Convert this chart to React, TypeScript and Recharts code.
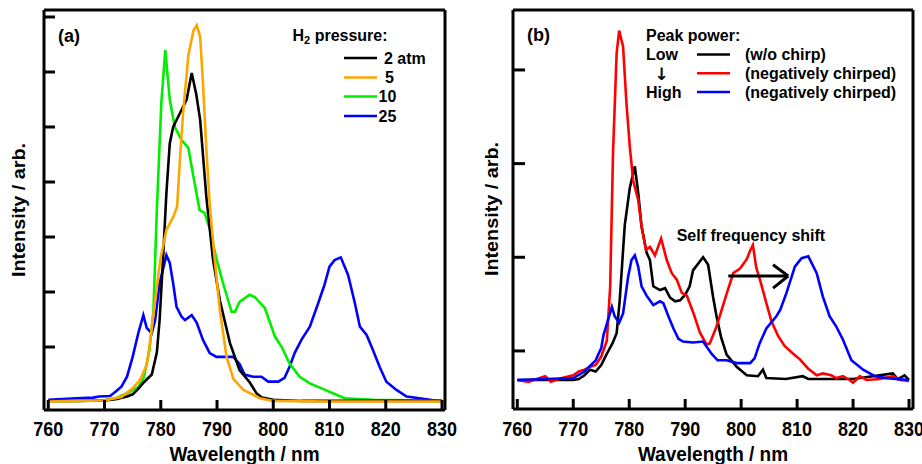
import { LineChart, Line, XAxis, YAxis, ReferenceLine } from "recharts";

const FONT = '"Liberation Sans", Arial, Helvetica, sans-serif';
const SY = 1.15; // the original figure is a little stretched vertically

const WL_TICKS = [760, 770, 780, 790, 800, 810, 820, 830];
const A_Y_TICKS = [1, 2, 3, 4, 5, 6, 7];
const B_Y_TICKS = [0.31, 1.31, 2.31, 3.31];

const A_X_DOMAIN = [759.24, 830.53];
const A_Y_DOMAIN = [-0.145, 7.127];
const B_X_DOMAIN = [759.23, 830.71];
const B_Y_DOMAIN = [-0.31, 3.95];

// (a) H2 pressure: 2 atm
const a2Wl = [760, 765, 770, 772, 774, 775, 776, 777, 778.4, 779.3, 779.8, 780.4, 781, 781.6, 782.2, 783.4, 784.6, 785.5, 786.3, 787, 788.1, 789.3, 790.5, 792.3, 794, 795.8, 797, 798, 800, 805, 810, 820, 830];
const a2I = [0.02, 0.02, 0.03, 0.05, 0.1, 0.14, 0.24, 0.36, 0.5, 0.9, 1.5, 2.6, 3.8, 4.7, 5.0, 5.25, 5.5, 5.98, 5.6, 5.13, 3.73, 2.58, 1.85, 1.07, 0.58, 0.36, 0.16, 0.08, 0.04, 0.02, 0.02, 0.02, 0.02];

// 5 atm
const a5Wl = [760, 765, 770, 773, 775, 776.3, 777.5, 778.1, 779.9, 781, 782.2, 782.9, 783.4, 784, 784.9, 785.8, 786.4, 787, 787.5, 788.1, 788.7, 789.6, 790.5, 791.7, 792.9, 794.7, 797.6, 800, 810, 820, 830];
const a5I = [0.01, 0.02, 0.03, 0.09, 0.25, 0.4, 0.67, 1.1, 2.58, 3.13, 3.36, 3.55, 4.4, 5.3, 6.3, 6.75, 6.85, 6.64, 5.8, 4.6, 3.6, 2.58, 1.67, 0.82, 0.42, 0.22, 0.07, 0.02, 0.01, 0.01, 0.01];

// 10 atm
const a10Wl = [760, 765, 770, 772, 774, 776, 777, 778, 778.7, 779.3, 780.1, 780.8, 781.6, 782.5, 783.7, 784.9, 785.8, 786.9, 787.8, 788.7, 789.9, 791.1, 792.6, 793.2, 794, 795.8, 796.7, 798.5, 800.3, 801.5, 802.9, 804.7, 806.5, 808.8, 810.6, 812.7, 817.7, 830];
const a10I = [0.02, 0.02, 0.03, 0.07, 0.16, 0.27, 0.45, 0.95, 1.67, 3.49, 5.44, 6.4, 5.5, 5.0, 4.76, 4.62, 4.1, 3.49, 3.44, 3.15, 2.6, 2.15, 1.64, 1.64, 1.82, 1.95, 1.91, 1.71, 1.19, 1.0, 0.7, 0.46, 0.34, 0.24, 0.16, 0.07, 0.04, 0.02];

// 25 atm
const a25Wl = [760, 765, 768, 769, 771, 772, 773, 774, 775, 776, 776.9, 777.5, 778.4, 779, 779.8, 781, 781.6, 782.2, 782.8, 783.7, 784.3, 785.5, 786.4, 787.5, 788.7, 789.9, 791.7, 792.9, 794, 794.9, 796.4, 797.9, 799.1, 800.9, 802, 802.9, 803.8, 805, 806.5, 808, 809.1, 810, 810.9, 812, 813.3, 814.5, 815.4, 816.6, 817.7, 818.9, 820.1, 821.9, 823.7, 826, 830];
const a25I = [0.04, 0.07, 0.08, 0.1, 0.11, 0.19, 0.28, 0.46, 0.82, 1.25, 1.58, 1.35, 1.25, 1.49, 2.16, 2.67, 2.53, 2.16, 1.73, 1.55, 1.49, 1.58, 1.44, 1.13, 0.89, 0.82, 0.82, 0.82, 0.69, 0.5, 0.46, 0.46, 0.37, 0.37, 0.44, 0.64, 0.89, 1.13, 1.37, 1.8, 2.13, 2.46, 2.58, 2.63, 2.31, 1.8, 1.37, 1.22, 0.95, 0.64, 0.37, 0.22, 0.1, 0.07, 0.01];

// (b) low power, w/o chirp
const bLowWl = [760, 765, 770, 771, 772, 773, 774, 775, 776, 777, 777.75, 778.3, 779.2, 780.1, 781, 781.6, 782.2, 783.1, 783.7, 784.3, 785.5, 786.4, 787.3, 788.2, 789.1, 790, 790.8, 791.4, 793.2, 794.1, 795, 795.6, 796.4, 797.4, 799.2, 801, 803, 803.9, 804.5, 808, 811, 812, 820, 827.1, 828, 829.2, 830];
const bLowI = [0, 0, 0, 0.01, 0.05, 0.11, 0.09, 0.16, 0.28, 0.39, 0.5, 0.85, 1.65, 2.05, 2.28, 2.0, 1.64, 1.36, 1.28, 1.0, 0.96, 0.98, 0.88, 0.84, 0.85, 0.91, 1.0, 1.17, 1.31, 1.23, 0.88, 0.68, 0.46, 0.27, 0.14, 0.05, 0.04, 0.11, 0.02, 0.01, 0.04, 0.01, 0.01, 0.07, 0.01, 0.05, 0];

// middle power, negatively chirped
const bMidWl = [760, 762, 764, 765, 766, 768, 770, 771, 772, 773, 774, 775, 776, 776.6, 777.1, 777.75, 778.2, 778.9, 779.5, 780.1, 780.7, 781.6, 782.2, 783, 783.7, 784.6, 785.7, 786.7, 787.6, 788.5, 789.4, 790.3, 791.5, 792.6, 793.8, 794.4, 795.6, 797.4, 798.6, 799.8, 801, 801.6, 802.1, 802.7, 803.6, 804.5, 805.4, 806.6, 807.8, 809.3, 810.5, 812, 813.5, 814.6, 816.1, 817, 818.2, 819.4, 820, 821.2, 822.4, 824.8, 827.2, 828.4, 830];
const bMidI = [0, -0.02, 0.02, 0.04, -0.02, 0.02, 0.05, 0.09, 0.11, 0.14, 0.16, 0.25, 0.42, 1.0, 2.42, 3.49, 3.73, 3.56, 2.96, 2.49, 2.13, 1.92, 1.64, 1.39, 1.42, 1.33, 1.51, 1.28, 1.14, 1.07, 0.93, 0.9, 0.71, 0.51, 0.38, 0.39, 0.57, 0.92, 1.14, 1.19, 1.29, 1.38, 1.44, 1.2, 1.02, 0.82, 0.63, 0.47, 0.36, 0.28, 0.22, 0.12, 0.05, 0.07, 0.05, 0.02, 0.04, 0, -0.03, 0.04, 0, 0.01, 0.04, 0, -0.01];

// high power, negatively chirped
const bHighWl = [760, 765, 770, 772, 774, 775, 775.4, 776, 776.9, 777.4, 778.2, 778.9, 779.8, 780.4, 781, 781.6, 782.2, 783.1, 784.3, 785.5, 786.1, 787, 787.9, 788.8, 789.6, 791.4, 793.2, 794.7, 795.8, 797.4, 799.2, 801.6, 802.4, 803.3, 804.5, 806.3, 807, 808.1, 809.6, 810.8, 812, 813.5, 814.6, 815.8, 817, 818.2, 819.7, 821.8, 823.9, 826, 830];
const bHighI = [0, 0.01, 0.02, 0.09, 0.21, 0.34, 0.48, 0.6, 0.78, 0.68, 0.61, 0.71, 1.1, 1.28, 1.33, 1.21, 1.0, 0.9, 0.8, 0.84, 0.82, 0.68, 0.55, 0.44, 0.41, 0.4, 0.41, 0.28, 0.21, 0.21, 0.18, 0.18, 0.23, 0.39, 0.55, 0.68, 0.75, 0.93, 1.21, 1.3, 1.32, 1.14, 0.89, 0.68, 0.57, 0.43, 0.21, 0.11, 0.04, 0.02, 0];

const zip = (wl: number[], v: number[]) => wl.map((w, i) => ({ wl: w, v: v[i] }));

const AXIS_LINE = { stroke: "#000", strokeWidth: 3 };
const TICK_LINE = { stroke: "#000", strokeWidth: 3 };
const LW = 2.6;

function XTick(props: any) {
  const { x, y, payload } = props;
  return (
    <text
      transform={`translate(${x},${y}) scale(1,${SY})`}
      textAnchor="middle"
      fontFamily={FONT}
      fontSize={18}
      fontWeight="bold"
      fill="#000"
    >
      {payload.value}
    </text>
  );
}

// y axes have tick marks but no numbers
const NoLabel = () => <g />;

function Txt({ x, y, size = 16, anchor = "start", sy = 1, weight = "bold", family = FONT, children }: any) {
  return (
    <text
      transform={`translate(${x},${y}) scale(1,${sy})`}
      fontFamily={family}
      fontSize={size}
      fontWeight={weight}
      textAnchor={anchor}
      fill="#000"
    >
      {children}
    </text>
  );
}

function Seg({ x1, x2, y, color }: { x1: number; x2: number; y: number; color: string }) {
  return <line x1={x1} x2={x2} y1={y} y2={y} stroke={color} strokeWidth={LW} />;
}

function PanelA() {
  return (
    <LineChart width={460} height={464} margin={{ top: 10, right: 15, bottom: 0, left: 0 }}>
      <XAxis
        dataKey="wl"
        type="number"
        domain={A_X_DOMAIN}
        allowDataOverflow
        ticks={WL_TICKS}
        interval={0}
        height={54}
        tickSize={-10}
        tickMargin={36}
        tick={XTick}
        axisLine={AXIS_LINE}
        tickLine={TICK_LINE}
      />
      <YAxis
        type="number"
        domain={A_Y_DOMAIN}
        allowDataOverflow
        ticks={A_Y_TICKS}
        interval={0}
        width={44}
        tickSize={-11}
        tick={NoLabel}
        axisLine={AXIS_LINE}
        tickLine={TICK_LINE}
      />
      <ReferenceLine y={A_Y_DOMAIN[1]} stroke="#000" strokeWidth={3} ifOverflow="visible" />
      <ReferenceLine x={A_X_DOMAIN[1]} stroke="#000" strokeWidth={3} ifOverflow="visible" />
      <Line data={zip(a25Wl, a25I)} dataKey="v" stroke="#0000ff" strokeWidth={LW} dot={false} isAnimationActive={false} />
      <Line data={zip(a10Wl, a10I)} dataKey="v" stroke="#00ee00" strokeWidth={LW} dot={false} isAnimationActive={false} />
      <Line data={zip(a2Wl, a2I)} dataKey="v" stroke="#000000" strokeWidth={LW} dot={false} isAnimationActive={false} />
      <Line data={zip(a5Wl, a5I)} dataKey="v" stroke="#ffa500" strokeWidth={LW} dot={false} isAnimationActive={false} />
    </LineChart>
  );
}

// "Self frequency shift" arrow, in data units of panel (b)
const SHIFT_FROM = 797.7;
const SHIFT_TO = 808.4;
const SHIFT_LEVEL = 1.11;
const HEAD_BACK = 805.7;

function PanelB() {
  const arrow = { stroke: "#000", strokeWidth: 3, ifOverflow: "visible" as const };
  return (
    <LineChart width={462} height={464} margin={{ top: 10, right: 9, bottom: 0, left: 0 }}>
      <XAxis
        dataKey="wl"
        type="number"
        domain={B_X_DOMAIN}
        allowDataOverflow
        ticks={WL_TICKS}
        interval={0}
        height={55}
        tickSize={-10}
        tickMargin={37}
        tick={XTick}
        axisLine={AXIS_LINE}
        tickLine={TICK_LINE}
      />
      <YAxis
        type="number"
        domain={B_Y_DOMAIN}
        allowDataOverflow
        ticks={B_Y_TICKS}
        interval={0}
        width={53}
        tickSize={-12}
        tick={NoLabel}
        axisLine={AXIS_LINE}
        tickLine={TICK_LINE}
      />
      <ReferenceLine y={B_Y_DOMAIN[1]} stroke="#000" strokeWidth={3} ifOverflow="visible" />
      <ReferenceLine x={B_X_DOMAIN[1]} stroke="#000" strokeWidth={3} ifOverflow="visible" />
      <Line data={zip(bLowWl, bLowI)} dataKey="v" stroke="#000000" strokeWidth={LW} dot={false} isAnimationActive={false} />
      <Line data={zip(bMidWl, bMidI)} dataKey="v" stroke="#ff0000" strokeWidth={LW} dot={false} isAnimationActive={false} />
      <Line data={zip(bHighWl, bHighI)} dataKey="v" stroke="#0000ff" strokeWidth={LW} dot={false} isAnimationActive={false} />
      <ReferenceLine {...arrow} segment={[{ x: SHIFT_FROM, y: SHIFT_LEVEL }, { x: SHIFT_TO, y: SHIFT_LEVEL }]} />
      <ReferenceLine {...arrow} segment={[{ x: HEAD_BACK, y: 1.23 }, { x: SHIFT_TO, y: SHIFT_LEVEL }]} />
      <ReferenceLine {...arrow} segment={[{ x: HEAD_BACK, y: 0.98 }, { x: SHIFT_TO, y: SHIFT_LEVEL }]} />
    </LineChart>
  );
}

export default function App() {
  return (
    <div style={{ position: "absolute", left: 0, top: 0, width: 922, height: 464, background: "#fff", overflow: "hidden" }}>
      <div style={{ position: "absolute", left: 0, top: 0 }}>
        <PanelA />
      </div>
      <div style={{ position: "absolute", left: 460, top: 0 }}>
        <PanelB />
      </div>
      <svg width={922} height={464} style={{ position: "absolute", left: 0, top: 0, pointerEvents: "none" }}>
        {/* panel (a) */}
        <Txt x={58} y={41.5} size={18}>(a)</Txt>
        <text x={292.5} y={41} fontFamily={FONT} fontSize={16} fontWeight="bold" fill="#000">
          H<tspan fontSize={11} dy={3}>2</tspan>
          <tspan dy={-3}> pressure:</tspan>
        </text>
        <Seg x1={344} x2={377} y={58} color="#000000" />
        <Seg x1={344} x2={377} y={77.5} color="#ffa500" />
        <Seg x1={344} x2={377} y={96.5} color="#00ee00" />
        <Seg x1={344} x2={377} y={116} color="#0000ff" />
        <Txt x={384} y={63.8}>2 atm</Txt>
        <Txt x={385} y={83.3}>5</Txt>
        <Txt x={378.5} y={102.3}>10</Txt>
        <Txt x={378.5} y={121.8}>25</Txt>
        <Txt x={244.5} y={461} size={19} anchor="middle" sy={1.1}>Wavelength / nm</Txt>
        <text transform={`translate(25,210) scale(1,1.1) rotate(-90)`} fontFamily={FONT} fontSize={18} fontWeight="bold" textAnchor="middle" fill="#000">
          Intensity / arb.
        </text>

        {/* panel (b) */}
        <Txt x={527} y={41} size={18}>(b)</Txt>
        <Txt x={646} y={41}>Peak power:</Txt>
        <Txt x={646} y={60.3}>Low</Txt>
        <Txt x={661.5} y={80} size={17} anchor="middle" family='"DejaVu Sans", sans-serif'>↓</Txt>
        <Txt x={646} y={97.8}>High</Txt>
        <Seg x1={697} x2={730} y={54.5} color="#000000" />
        <Seg x1={697} x2={730} y={73.3} color="#ff0000" />
        <Seg x1={697} x2={730} y={92} color="#0000ff" />
        <Txt x={745} y={60.3}>(w/o chirp)</Txt>
        <Txt x={745} y={79.1}>(negatively chirped)</Txt>
        <Txt x={745} y={97.8}>(negatively chirped)</Txt>
        <Txt x={676.7} y={240.5}>Self frequency shift</Txt>
        <Txt x={713} y={461} size={19} anchor="middle" sy={1.1}>Wavelength / nm</Txt>
        <text transform={`translate(498,209) scale(1,1.1) rotate(-90)`} fontFamily={FONT} fontSize={18} fontWeight="bold" textAnchor="middle" fill="#000">
          Intensity / arb.
        </text>
      </svg>
    </div>
  );
}
